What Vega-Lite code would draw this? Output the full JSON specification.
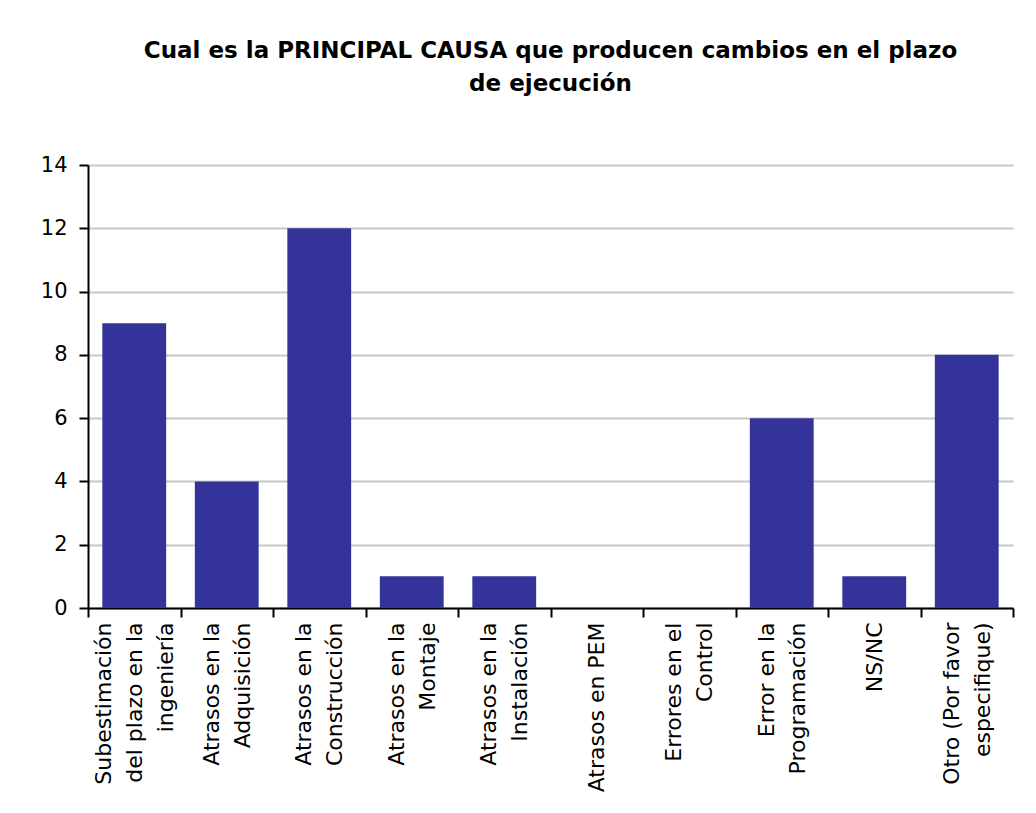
{
  "$schema": "https://vega.github.io/schema/vega-lite/v6.json",
  "width": 925,
  "height": 443,
  "autosize": {"type": "none"},
  "padding": {"left": 88, "top": 165, "right": 23, "bottom": 205},
  "background": "white",
  "title": {
    "text": ["Cual es la PRINCIPAL CAUSA que producen cambios en el plazo", "de ejecución"],
    "font": "DejaVu Sans",
    "fontSize": 23,
    "fontWeight": "bold",
    "color": "#000000",
    "anchor": "middle",
    "offset": 58,
    "lineHeight": 33
  },
  "data": {
    "values": [
      {"causa": "Subestimación|del plazo en la|ingeniería", "n": 9},
      {"causa": "Atrasos en la|Adquisición", "n": 4},
      {"causa": "Atrasos en la|Construcción", "n": 12},
      {"causa": "Atrasos en la|Montaje", "n": 1},
      {"causa": "Atrasos en la|Instalación", "n": 1},
      {"causa": "Atrasos en PEM", "n": 0},
      {"causa": "Errores en el|Control", "n": 0},
      {"causa": "Error en la|Programación", "n": 6},
      {"causa": "NS/NC", "n": 1},
      {"causa": "Otro (Por favor|especifique)", "n": 8}
    ]
  },
  "mark": {"type": "bar", "color": "#333399", "width": {"band": 0.69}},
  "encoding": {
    "x": {
      "field": "causa",
      "type": "nominal",
      "sort": null,
      "scale": {"paddingInner": 0, "paddingOuter": 0},
      "axis": {
        "title": null,
        "labelAngle": -90,
        "labelAlign": "right",
        "labelBaseline": "middle",
        "labelExpr": "split(datum.label, '|')",
        "labelOffset": {"expr": "-(length(split(datum.value, '|')) - 1) * 15.5"},
        "tickBand": "extent",
        "labelFont": "DejaVu Sans",
        "labelFontSize": 22,
        "labelLineHeight": 31,
        "labelColor": "#000000",
        "labelPadding": 5,
        "labelLimit": 400,
        "tickSize": 9,
        "tickColor": "#000000",
        "tickWidth": 2,
        "domainColor": "#000000",
        "domainWidth": 2,
        "grid": false
      }
    },
    "y": {
      "field": "n",
      "type": "quantitative",
      "scale": {"domain": [0, 14]},
      "axis": {
        "title": null,
        "values": [0, 2, 4, 6, 8, 10, 12, 14],
        "labelFont": "DejaVu Sans",
        "labelFontSize": 21,
        "labelColor": "#000000",
        "labelPadding": 12,
        "tickSize": 9,
        "tickColor": "#000000",
        "tickWidth": 2,
        "domainColor": "#000000",
        "domainWidth": 2,
        "grid": true,
        "gridColor": "#c8c8c8",
        "gridWidth": 2
      }
    }
  },
  "config": {"view": {"stroke": null}}
}
